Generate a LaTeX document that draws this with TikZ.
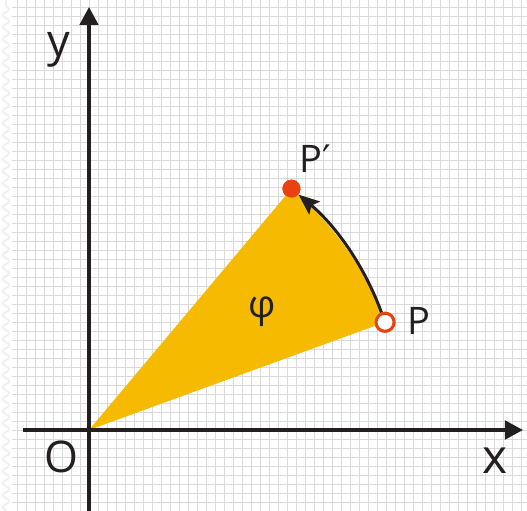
\documentclass[tikz,border=0pt]{standalone}
\usepackage{fontspec}
\setmainfont{Open Sans}
\newfontfamily\primefont{DejaVu Sans}
\usetikzlibrary{positioning, arrows.meta, decorations.pathmorphing}
\definecolor{sector}{RGB}{246,187,0}
\definecolor{point}{RGB}{232,66,15}
\definecolor{axis}{RGB}{35,31,32}
\definecolor{paper}{RGB}{218,218,220}

\begin{document}
\begin{tikzpicture}[
				x=0.025cm, y=0.025cm,
				>={Stealth[length=0.52cm, width=0.42cm, inset=0.1cm]},
				axisline/.style={line width=2.5pt, draw=axis, -{Triangle[length=0.45cm, width=0.46cm]}},
				dot/.style={circle, inner sep=0pt, minimum size=0.45cm},
				lbl/.style={inner sep=0pt, text=axis}
				]
				\useasboundingbox[fill=white] (-89,-81) rectangle (438,430);
				\draw[paper, line width=0.5pt] (-77,-81) grid[step=9] (438,430);
				\draw[black!6, line width=1.4pt, decorate, decoration={snake, segment length=0.3cm, amplitude=0.08cm}] (-83,-81) -- (-83,430);
				\coordinate (O) at (0,0);
				\coordinate (xstart) at (-66,0);
				\coordinate (xend) at (434,0);
				\coordinate (ystart) at (0,-81);
				\coordinate (yend) at (0,423);
				\node[dot, draw=point, fill=white, line width=2.1pt] (P) at (20:315) {};
				\node[dot, fill=point] (Pp) at (50:315) {};
				\fill[sector] (O) -- (20:315) arc[start angle=20, end angle=50, radius=315] -- cycle;
				\draw[axisline] (xstart) -- (xend);
				\draw[axisline] (ystart) -- (yend);
				\draw[->, line width=2.1pt, draw=axis] (P) to[bend right=15, looseness=0.87] (Pp);
				\node[dot, draw=point, fill=white, line width=2.1pt] at (P) {};
				\node[dot, fill=point] at (Pp) {};
				\node[lbl, font=\fontsize{31}{31}\selectfont, anchor=base] (Olabel) at (-28,-43) {O};
				\node[lbl, font=\fontsize{34}{34}\selectfont, anchor=base] (xlabel) at (406,-44) {x};
				\node[lbl, font=\fontsize{32}{32}\selectfont, anchor=base] (ylabel) at (-30,373) {y};
				\node[lbl, font=\fontsize{27}{27}\selectfont, anchor=base west] (Pplabel) at (210,257) {P{\primefont′}};
				\node[lbl, font=\fontsize{27}{27}\selectfont, anchor=base west] (Plabel) at (318,95) {P};
				\node[lbl, font=\fontsize{27}{27}\selectfont] (phi) at (173,118) {φ};
\end{tikzpicture}
\end{document}
